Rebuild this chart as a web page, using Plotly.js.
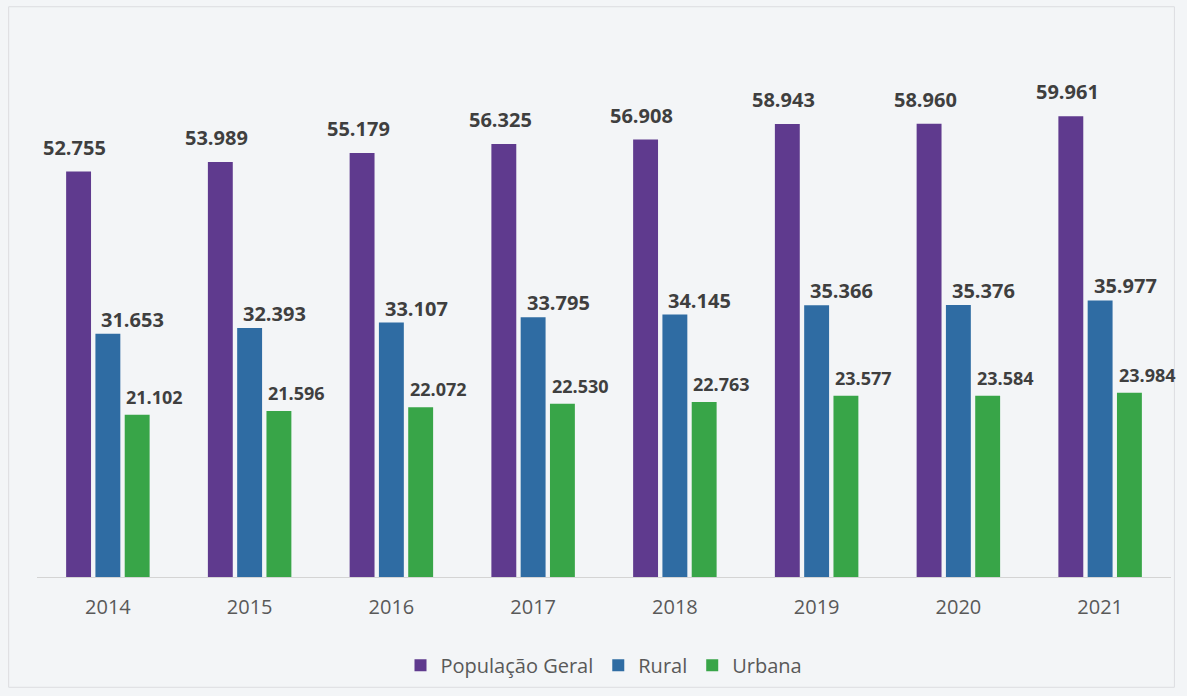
<!DOCTYPE html>
<html>
<head>
<meta charset="utf-8">
<script src="https://cdn.plot.ly/plotly-3.0.1.min.js"></script>
<style>
html,body{margin:0;padding:0;background:#f3f5f7;}
#chart{width:1187px;height:696px;}
</style>
</head>
<body>
<div id="chart"></div>
<script>
const years = ['2014','2015','2016','2017','2018','2019','2020','2021'];
const populacaoGeral = [52.755, 53.989, 55.179, 56.325, 56.908, 58.943, 58.960, 59.961];
const rural = [31.653, 32.393, 33.107, 33.795, 34.145, 35.366, 35.376, 35.977];
const urbana = [21.102, 21.596, 22.072, 22.530, 22.763, 23.577, 23.584, 23.984];
const seriesNames = ['População Geral', 'Rural', 'Urbana'];
const seriesColors = ['#5f3a8e', '#2f6ca3', '#38a548'];

const fmt = v => v.toFixed(3);
const allSeries = [populacaoGeral, rural, urbana];

const traces = allSeries.map((vals, k) => ({
  type: 'bar',
  name: seriesNames[k],
  x: years,
  y: vals,
  marker: {color: seriesColors[k]},
  hoverinfo: 'x+y'
}));

// label placement per series (pixel offsets relative to the bar)
const barOffsetPx = [-33, 0, 33];
const labelShiftX = [0, 25, 14];
const labelShiftY = [9, -1, 4];
const labelSize = [20, 20, 18];
const annotations = [];
allSeries.forEach((vals, k) => {
  vals.forEach((v, i) => {
    annotations.push({
      x: i, y: v, xref: 'x', yref: 'y',
      text: fmt(v), showarrow: false,
      xanchor: 'center', yanchor: 'bottom',
      xshift: barOffsetPx[k] + labelShiftX[k], yshift: labelShiftY[k],
      font: {family: 'Open Sans, sans-serif', size: labelSize[k], color: '#3f3f3f', weight: 700}
    });
  });
});

const layout = {
  width: 1187, height: 696,
  paper_bgcolor: '#f3f5f7', plot_bgcolor: 'rgba(0,0,0,0)',
  margin: {l: 37, r: 16, t: 39, b: 119, autoexpand: false},
  barmode: 'group',
  bargap: 0.38,
  bargroupgap: 0.15,
  font: {family: 'Open Sans, sans-serif', color: '#595959'},
  xaxis: {
    type: 'category',
    range: [-0.5, 7.5], autorange: false,
    showline: true, linecolor: '#d4d4d4', linewidth: 1,
    ticks: '', showgrid: false,
    tickfont: {size: 20, color: '#595959'},
    ticklabelstandoff: 12
  },
  yaxis: {
    range: [0, 70], autorange: false, visible: false, showgrid: false, zeroline: false
  },
  showlegend: true,
  legend: {
    orientation: 'h', x: 0.5, xanchor: 'center', y: -0.128, yanchor: 'top',
    font: {size: 20, color: '#595959'},
    bgcolor: 'rgba(0,0,0,0)',
    itemwidth: 30, traceorder: 'normal'
  },
  annotations: annotations,
  shapes: [{type: 'rect', xref: 'paper', yref: 'paper', x0: -0.025, x1: 1.003, y0: -0.205, y1: 1.06,
            line: {color: '#dcdde0', width: 1}, fillcolor: 'rgba(0,0,0,0)', layer: 'below'}]
};

Plotly.newPlot('chart', traces, layout, {displayModeBar: false});
</script>
</body>
</html>
